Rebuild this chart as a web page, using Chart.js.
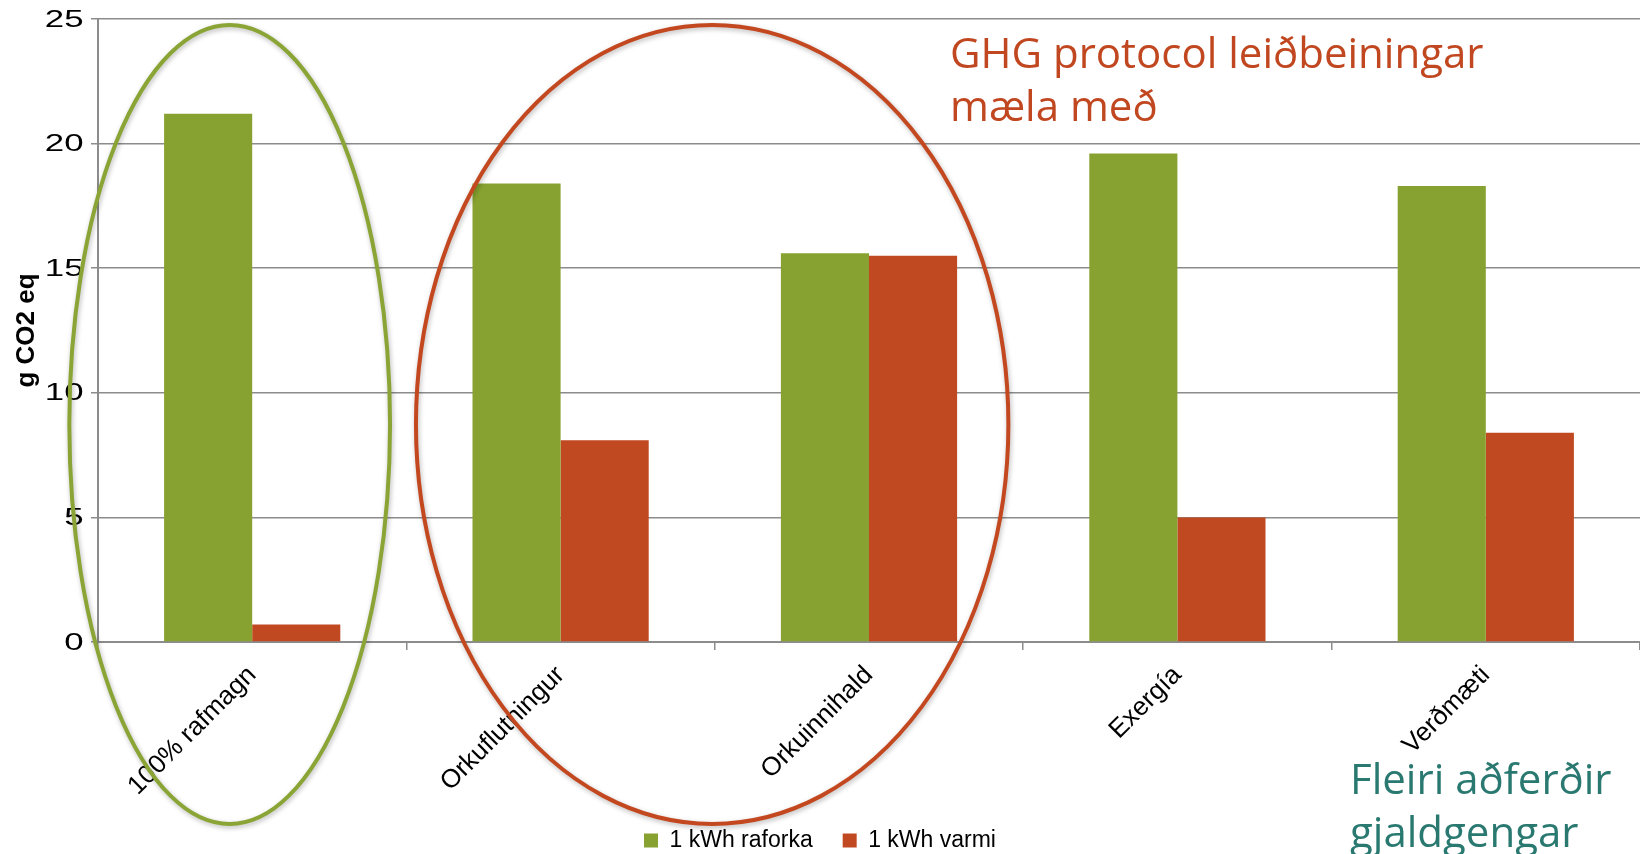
<!DOCTYPE html>
<html>
<head>
<meta charset="utf-8">
<script src="https://cdn.jsdelivr.net/npm/chart.js@4.4.1/dist/chart.umd.min.js"></script>
<style>
  html, body { margin: 0; padding: 0; background: #fff; overflow: hidden; }
  #wrap { position: relative; width: 1640px; height: 854px; }
</style>
</head>
<body>
<div id="wrap"><canvas id="chart" width="1640" height="854"></canvas></div>
<script>
// Emissions per kWh under different allocation methods (g CO2 eq)
const categories = ['100% rafmagn', 'Orkuflutningur', 'Orkuinnihald', 'Exergía', 'Verðmæti'];
const seriesNames = ['1 kWh raforka', '1 kWh varmi'];
const raforka = [21.2, 18.4, 15.6, 19.6, 18.3];
const varmi = [0.7, 8.1, 15.5, 5.0, 8.4];
const yTicks = [0, 5, 10, 15, 20, 25];
const yTitle = 'g CO2 eq';

const GREEN = '#87A230';
const RED = '#C14921';
const AXIS_GREY = '#8c8c8c';
const FONT = '"Liberation Sans", Arial, sans-serif';

// Highlight rings, given in scale units (category index / g CO2 eq)
const rings = [
  { from: -0.593, to: 0.447, top: 24.76, bottom: -7.30, color: '#8AA535' },
  { from: 0.531, to: 2.452, top: 24.76, bottom: -7.30, color: '#C3481F' }
];

// Side notes (canvas pixels: left edge, first baseline)
const notes = [
  { lines: ['GHG protocol leiðbeiningar', 'mæla með'], x: 950, y: 67.5, color: '#C0471F' },
  { lines: ['Fleiri aðferðir', 'gjaldgengar'], x: 1350, y: 793.5, color: '#2A7971' }
];
const NOTE_FONT = '42px "Open Sans", sans-serif';
const NOTE_LINE = 53.3;

const overlay = {
  id: 'overlay',
  afterDraw(chart) {
    const { ctx, scales: { x, y } } = chart;

    // value axis labels, drawn in a widened face
    ctx.save();
    ctx.fillStyle = '#000';
    ctx.font = '24px ' + FONT;
    ctx.textAlign = 'right';
    ctx.textBaseline = 'middle';
    y.ticks.forEach(t => {
      const py = y.getPixelForValue(t.value);
      ctx.save();
      ctx.translate(y.right - 14.5, py + 1);
      ctx.scale(1.45, 1);
      ctx.fillText(String(t.value), 0, 0);
      ctx.restore();
    });
    ctx.restore();

    // rings
    rings.forEach(r => {
      const x0 = x.getPixelForValue(r.from);
      const x1 = x.getPixelForValue(r.to);
      const y0 = y.getPixelForValue(r.top);
      const y1 = y.getPixelForValue(r.bottom);
      ctx.save();
      ctx.shadowColor = 'rgba(0,0,0,0.28)';
      ctx.shadowBlur = 5;
      ctx.shadowOffsetX = 1;
      ctx.shadowOffsetY = 2;
      ctx.strokeStyle = r.color;
      ctx.lineWidth = 4;
      ctx.beginPath();
      ctx.ellipse((x0 + x1) / 2, (y0 + y1) / 2, (x1 - x0) / 2, (y1 - y0) / 2, 0, 0, Math.PI * 2);
      ctx.stroke();
      ctx.restore();
    });

    // notes
    ctx.save();
    ctx.font = NOTE_FONT;
    ctx.textAlign = 'left';
    ctx.textBaseline = 'alphabetic';
    notes.forEach(n => {
      ctx.fillStyle = n.color;
      n.lines.forEach((line, i) => ctx.fillText(line, n.x, n.y + i * NOTE_LINE));
    });
    ctx.restore();
  }
};

new Chart(document.getElementById('chart'), {
  type: 'bar',
  data: {
    labels: categories,
    datasets: [
      { label: seriesNames[0], data: raforka, backgroundColor: GREEN, borderWidth: 0,
        categoryPercentage: 0.5714, barPercentage: 1 },
      { label: seriesNames[1], data: varmi, backgroundColor: RED, borderWidth: 0,
        categoryPercentage: 0.5714, barPercentage: 1 }
    ]
  },
  options: {
    responsive: false,
    animation: false,
    devicePixelRatio: 1,
    layout: { padding: { top: 19, left: 0, right: 0, bottom: -8 } },
    plugins: {
      legend: {
        position: 'bottom',
        labels: {
          font: { family: FONT, size: 23 },
          color: '#000',
          boxWidth: 14,
          boxHeight: 14,
          padding: 30
        }
      },
      tooltip: { enabled: false }
    },
    scales: {
      x: {
        grid: { offset: true, drawOnChartArea: false, drawTicks: true, tickLength: 8,
                color: AXIS_GREY, lineWidth: 1.5 },
        border: { display: true, color: AXIS_GREY, width: 2 },
        ticks: { minRotation: 45, maxRotation: 45, autoSkip: false, color: '#000',
                 font: { family: FONT, size: 26 }, padding: 10 },
        afterFit: s => { s.height = 157; }
      },
      y: {
        min: 0,
        max: 25,
        afterBuildTicks: s => { s.ticks = yTicks.map(v => ({ value: v })); },
        ticks: { display: false },
        grid: { color: AXIS_GREY, lineWidth: 1.5, drawTicks: true, tickLength: 7 },
        border: { display: true, color: AXIS_GREY, width: 2 },
        title: { display: true, text: yTitle, color: '#000',
                 font: { family: FONT, size: 26, weight: 'bold' },
                 padding: { top: 11, bottom: 0 } },
        afterFit: s => { s.width = 98; }
      }
    }
  },
  plugins: [overlay]
});
</script>
</body>
</html>
